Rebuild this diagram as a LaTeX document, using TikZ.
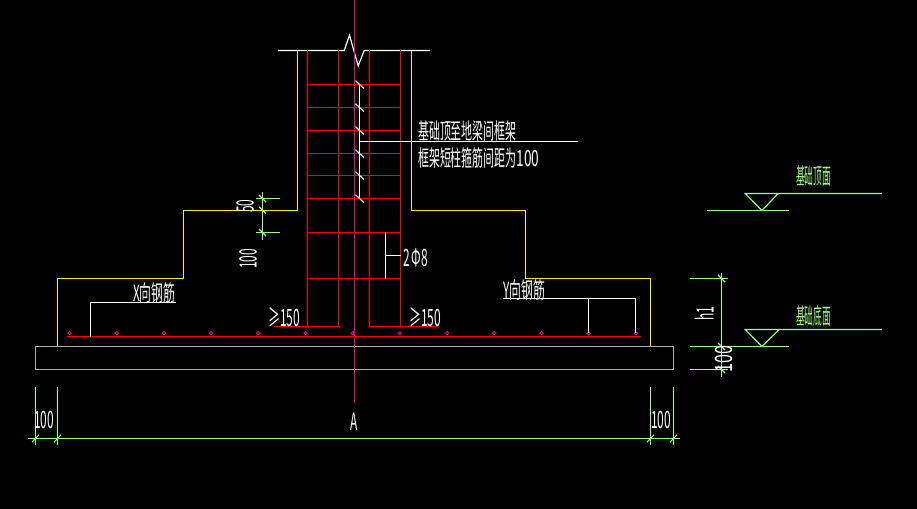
\documentclass[tikz,border=0pt]{standalone}
\usepackage{fontspec}
\setmainfont{Noto Sans CJK SC}
\usepackage{xcolor}
\definecolor{cadgreen}{RGB}{160,255,120}
\definecolor{cadaxis}{RGB}{255,0,128}
\definecolor{cadgray}{RGB}{175,175,175}
\tikzset{
 cadtext/.style={inner sep=0, text=white, font=\fontsize{17}{17}\selectfont, transform shape, xscale=.55, yscale=1.12},
 numtext/.style={inner sep=0, text=white, font=\fontsize{17}{17}\selectfont, transform shape, xscale=.6, yscale=1.2},
 leader/.style={white, line width=1pt},
 rebar/.style={red, line width=1pt},
 dimline/.style={cadgreen, line width=1pt},
}
\begin{document}
\begin{tikzpicture}[x=.03cm, y=-.03cm]
\useasboundingbox (0,0) rectangle (917,509);
\fill[black] (0,0) rectangle (917,509);
\begin{scope}[shift={(.2,.2)}]
% outline
\draw[yellow, line width=1pt] (297.3,50.3)--(297.3,210)--(183.3,210)--(183.3,278.3)--(57.3,278.3)--(57.3,346.3);
\draw[yellow, line width=1pt] (411.3,50.3)--(411.3,210)--(525.3,210)--(525.3,278.3)--(650.3,278.3)--(650.3,346.3);
\draw[cadgray, line width=1pt] (35.3,346.3) rectangle (673.3,369.3);
\draw[white, line width=1pt] (278,50.3)--(344,50.3)--(349.3,35)--(358,65.7)--(364,50.3)--(430,50.3);
% column bars and stirrups
\foreach \x in {307.3, 338.3, 369.3, 400.3} {
 \draw[rebar] (\x,50.3)--(\x,326);
}
\foreach \y in {84.3, 107.3, 130.3, 153.3, 175.3, 198.3, 232.3, 278.3} {
 \draw[rebar] (307.3,\y)--(400.3,\y);
}
\draw[rebar] (274,326)--(339.3,326);
\draw[rebar] (368.3,326)--(436.7,326);
\draw[rebar] (67,336.3)--(641,336.3);
\foreach \i in {0,...,12} {
 \draw[magenta, line width=.8pt] ({69.3+47.2*\i},333) circle (1.6);
}
\draw[cadaxis, line width=1pt] (354.3,0)--(354.3,403);
% leaders
\draw[leader] (359.3,84.3)--(359.3,198.3);
\foreach \y in {84.3, 107.3, 130.3, 153.3, 175.3, 198.3} {
 \draw[leader] (355.3,\y-3.8)--(363.7,\y+4);
}
\draw[leader] (359.3,141.3)--(578,141.3);
\draw[leader] (385.3,232.3)--(385.3,278.3);
\draw[leader] (385.3,255.3)--(400.3,255.3);
\draw[leader] (90.3,336.3)--(90.3,302.3)--(176,302.3);
\draw[leader] (503,298.3)--(635.3,298.3)--(635.3,333);
\draw[leader] (588.3,298.3)--(588.3,333);
% dimensions
\draw[dimline] (28,438.3)--(680,438.3);
\foreach \x in {35.3, 57.3, 650.3, 673.3} {
 \draw[dimline] (\x,387)--(\x,445);
 \draw[dimline] (\x-3.5,442)--(\x+3.5,434.6);
}
\draw[dimline] (262.3,192)--(262.3,239.7);
\draw[dimline] (256,198.3)--(280,198.3);
\draw[dimline] (256,232.3)--(280,232.3);
\foreach \y in {198.3, 210, 232.3} {
 \draw[dimline] (258.8,\y-3.5)--(265.8,\y+3.5);
}
\draw[dimline] (721.3,272.7)--(721.3,376.7);
\draw[dimline] (690,278.3)--(728,278.3);
\draw[dimline] (690,369.3)--(728,369.3);
\foreach \y in {278.3, 346.3, 369.3} {
 \draw[dimline] (717.8,\y-3.5)--(724.8,\y+3.5);
}
% levels
\draw[dimline] (707,210.3)--(789,210.3);
\draw[dimline] (881.7,193.3)--(745,193.3)--(761.7,210.3)--(778,193.3);
\draw[dimline] (690,346.3)--(789,346.3);
\draw[dimline] (881.7,329.3)--(745,329.3)--(761.7,346.3)--(779,329.3);
\end{scope}
% texts
\node[cadtext, anchor=west] (topnote) at (418,131) {基础顶至地梁间框架};
\node[cadtext, anchor=west] (stirrupnote) at (418,158) {框架短柱箍筋间距为\scalebox{1.25}[1]{100}};
\node[numtext, anchor=west] (stirrupbar) at (403,258) {2$\,$Φ8};
\node[numtext, anchor=west] (leftlap) at (268,317) {≥150};
\node[numtext, anchor=west] (rightlap) at (409,317) {≥150};
\node[cadtext, anchor=west, xscale=1.08] (xbar) at (133,293) {X向钢筋};
\node[cadtext, anchor=west, xscale=1.08] (ybar) at (503,290) {Y向钢筋};
\node[rotate=90, numtext] (dimfifty) at (245,206) {50};
\node[rotate=90, numtext] (dimhundred) at (248,259) {100};
\node[rotate=90, numtext] (dimhone) at (704,313.5) {h1};
\node[rotate=90, numtext, xscale=1.35] (dimbase) at (723.5,359) {100};
\node[numtext] (dimleft) at (44,420) {100};
\node[numtext] (dimmid) at (354,422) {A};
\node[numtext] (dimright) at (661,420) {100};
\node[cadtext, text=cadgreen, anchor=west, xscale=.8] (leveltop) at (796,176.5) {基础顶面};
\node[cadtext, text=cadgreen, anchor=west, xscale=.8] (levelbottom) at (796,316) {基础底面};
\end{tikzpicture}
\end{document}
